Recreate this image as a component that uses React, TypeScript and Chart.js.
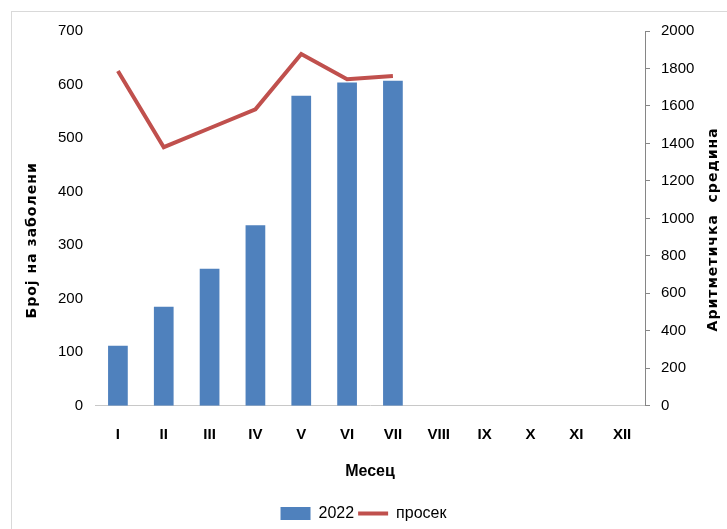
import React, { useEffect, useRef } from "react";
import { Chart, registerables } from "chart.js";

Chart.register(...registerables);

const months = ["I", "II", "III", "IV", "V", "VI", "VII", "VIII", "IX", "X", "XI", "XII"];
const cases2022 = [112, 185, 256, 337, 579, 604, 607, null, null, null, null, null];
const average = [1787, 1380, 1481, 1582, 1877, 1743, 1760, null, null, null, null, null];
const leftMax = 700;
const leftStep = 100;
const rightMax = 2000;
const rightStep = 200;
const seriesNames = ["2022", "просек"];
const leftTitle = "Број на заболени";
const rightTitle = "Аритметичка  средина";
const xTitle = "Месец";

const BLUE = "#4f81bd";
const RED = "#c0504d";
const FONT = "'Liberation Sans Narrow', 'Arial Narrow', 'Liberation Sans', Arial, sans-serif";

const yTitlesPlugin = {
  id: "yTitles",
  afterDraw(chart: any) {
    const { ctx, chartArea, scales } = chart;
    const mid = (chartArea.top + chartArea.bottom) / 2;
    ctx.save();
    ctx.font = "bold 14px 'DejaVu Sans', sans-serif";
    try {
      (ctx as any).letterSpacing = "1px";
    } catch (e) {}
    ctx.fillStyle = "#000";
    ctx.textAlign = "center";
    ctx.textBaseline = "middle";
    ctx.save();
    ctx.translate(scales.y.left + 32, mid + 22);
    ctx.rotate(-Math.PI / 2);
    ctx.fillText(leftTitle, 0, 0);
    ctx.restore();
    ctx.save();
    ctx.translate(scales.y1.right - 14, mid + 11);
    ctx.rotate(-Math.PI / 2);
    ctx.fillText(rightTitle, 0, 0);
    ctx.restore();
    ctx.restore();
  },
};

export default function App() {
  const ref = useRef<HTMLCanvasElement | null>(null);

  useEffect(() => {
    if (!ref.current) return;
    const chart = new Chart(ref.current, {
      type: "bar",
      data: {
        labels: months,
        datasets: [
          {
            type: "bar",
            label: seriesNames[0],
            data: cases2022,
            backgroundColor: BLUE,
            borderWidth: 0,
            yAxisID: "y",
            categoryPercentage: 0.86,
            barPercentage: 0.5,
            order: 2,
          },
          {
            type: "line",
            label: seriesNames[1],
            data: average,
            borderColor: RED,
            backgroundColor: RED,
            borderWidth: 4,
            pointRadius: 0,
            tension: 0,
            yAxisID: "y1",
            spanGaps: false,
            order: 1,
          },
        ] as any,
      },
      options: {
        responsive: false,
        animation: false,
        devicePixelRatio: 1,
        layout: { padding: { top: 31, bottom: -2.5, left: 0, right: 0 } },
        plugins: {
          tooltip: { enabled: false },
          legend: {
            position: "bottom",
            labels: {
              usePointStyle: true,
              pointStyleWidth: 30,
              boxHeight: 13,
              padding: 4,
              color: "#000",
              font: { family: FONT, size: 16 },
              sort: (a: any, b: any) => a.datasetIndex - b.datasetIndex,
              generateLabels(chart: any) {
                const items = (Chart.defaults.plugins.legend.labels as any).generateLabels(chart);
                return items.map((it: any) => {
                  const isBar = it.datasetIndex === 0;
                  return {
                    ...it,
                    pointStyle: isBar ? "rect" : "line",
                    lineWidth: isBar ? 0 : 4,
                    fillStyle: isBar ? BLUE : RED,
                    strokeStyle: isBar ? BLUE : RED,
                  };
                });
              },
            },
          },
        },
        scales: {
          x: {
            grid: { display: false, drawTicks: false },
            border: { display: true, color: "#c8c8c8", width: 1 },
            ticks: { color: "#000", padding: 20, font: { family: FONT, size: 15, weight: "bold" } },
            title: {
              display: true,
              text: xTitle,
              color: "#000",
              padding: { top: 0, bottom: 20 },
              font: { family: FONT, size: 16, weight: "bold" },
            },
            afterFit(scale: any) {
              scale.height = 95.75;
            },
          },
          y: {
            position: "left",
            min: 0,
            max: leftMax,
            grid: { display: false, drawTicks: false },
            border: { display: false },
            ticks: { stepSize: leftStep, color: "#000", padding: 12, font: { family: FONT, size: 15 } },
            afterFit(scale: any) {
              scale.width = 95;
            },
          },
          y1: {
            position: "right",
            min: 0,
            max: rightMax,
            grid: { drawOnChartArea: false, drawTicks: true, tickLength: 5, color: "#868686" },
            border: { display: true, color: "#868686", width: 1 },
            ticks: {
              stepSize: rightStep,
              color: "#000",
              padding: 11,
              font: { family: FONT, size: 15 },
              callback: (v: any) => String(v),
            },
            afterFit(scale: any) {
              scale.width = 82;
            },
          },
        },
      },
      plugins: [yTitlesPlugin],
    } as any);
    return () => chart.destroy();
  }, []);

  return (
    <div style={{ position: "absolute", left: 0, top: 0, width: 727, height: 529, background: "#fff", overflow: "hidden" }}>
      <div
        style={{
          position: "absolute",
          left: 11,
          top: 11,
          width: 800,
          height: 600,
          borderTop: "1px solid #d9d9d9",
          borderLeft: "1px solid #d9d9d9",
        }}
      />
      <canvas ref={ref} width={727} height={529} style={{ position: "absolute", left: 0, top: 0, width: 727, height: 529 }} />
    </div>
  );
}
